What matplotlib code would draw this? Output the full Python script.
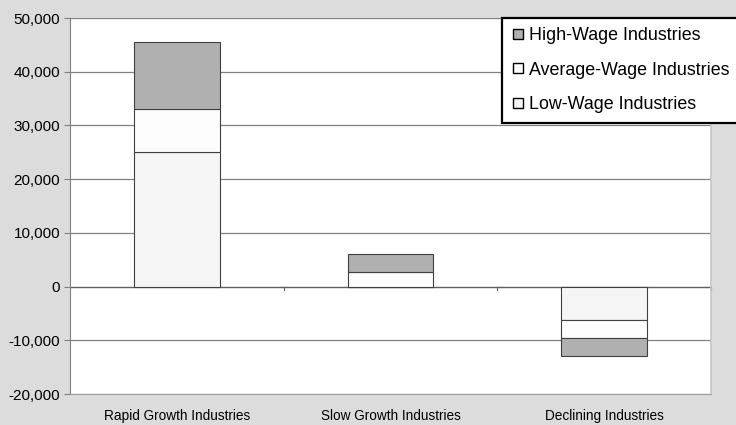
import matplotlib
matplotlib.use("Agg")
import matplotlib.pyplot as plt
from matplotlib.lines import Line2D
from matplotlib.ticker import FuncFormatter
import numpy as np

plt.rcParams['font.family'] = ['Liberation Sans', 'DejaVu Sans']

categories = ["Rapid Growth Industries", "Slow Growth Industries", "Declining Industries"]
low_wage = [25000, 0, -6200]
avg_wage = [8000, 2700, -3300]
high_wage = [12500, 3300, -3400]
series_names = ["Low-Wage Industries", "Average-Wage Industries", "High-Wage Industries"]
series_colors = ["#f5f5f5", "#fdfdfd", "#b0b0b0"]
y_ticks = [-20000, -10000, 0, 10000, 20000, 30000, 40000, 50000]

fig = plt.figure(figsize=(7.36, 4.25), dpi=100, facecolor="#dcdcdc")
ax = fig.add_axes([0.0951, 0.0729, 0.8709, 0.8847])
ax.set_facecolor("white")

x = np.arange(len(categories))
pos_base = np.zeros(len(categories))
neg_base = np.zeros(len(categories))
for vals, color in zip([low_wage, avg_wage, high_wage], series_colors):
    vals = np.array(vals, dtype=float)
    bottoms = np.where(vals >= 0, pos_base, neg_base)
    ax.bar(x, vals, bottom=bottoms, width=0.4, color=color,
           edgecolor="#404040", linewidth=0.8, zorder=3)
    pos_base = np.where(vals >= 0, pos_base + vals, pos_base)
    neg_base = np.where(vals < 0, neg_base + vals, neg_base)

ax.set_xlim(-0.5, len(categories) - 0.5)
ax.set_ylim(y_ticks[0], y_ticks[-1])
ax.set_yticks(y_ticks)
ax.yaxis.set_major_formatter(FuncFormatter(lambda v, p: f"{int(v):,}"))
ax.grid(axis="y", color="#808080", linewidth=0.9, zorder=1)
ax.set_axisbelow(True)
ax.tick_params(axis="y", direction="out", length=4, color="#808080",
               labelsize=11, pad=3, labelcolor="black")

# category labels below the plot, axis line with ticks at zero
ax.set_xticks(x)
ax.set_xticklabels(categories, fontsize=9.8)
ax.tick_params(axis="x", length=0, pad=11, labelcolor="black")
ax.axhline(0, color="#606060", linewidth=0.9, zorder=2)
for b in np.arange(0.5, len(categories), 1.0):
    ax.plot([b, b], [0, -600], color="#606060", linewidth=0.8, zorder=2,
            clip_on=False)

ax.spines["top"].set_visible(False)
ax.spines["left"].set_color("#808080")
ax.spines["bottom"].set_color("#a0a0a0")
ax.spines["right"].set_color("#c8c8c8")
ax.spines["right"].set_linewidth(1.2)

handles = [Line2D([], [], linestyle="none", marker="s", markersize=6.8,
                  markerfacecolor=c, markeredgecolor="black", markeredgewidth=1.0)
           for c in series_colors[::-1]]
leg = fig.legend(handles, series_names[::-1], loc="upper left",
                 bbox_to_anchor=(0.682, 0.958), fontsize=12.9, frameon=True,
                 fancybox=False, edgecolor="black", framealpha=1.0,
                 labelspacing=0.98, handlelength=0.7, handletextpad=0.3,
                 borderpad=0.52, borderaxespad=0.0)
leg.get_frame().set_linewidth(1.6)

fig.savefig("out.png", dpi=100, facecolor=fig.get_facecolor())
